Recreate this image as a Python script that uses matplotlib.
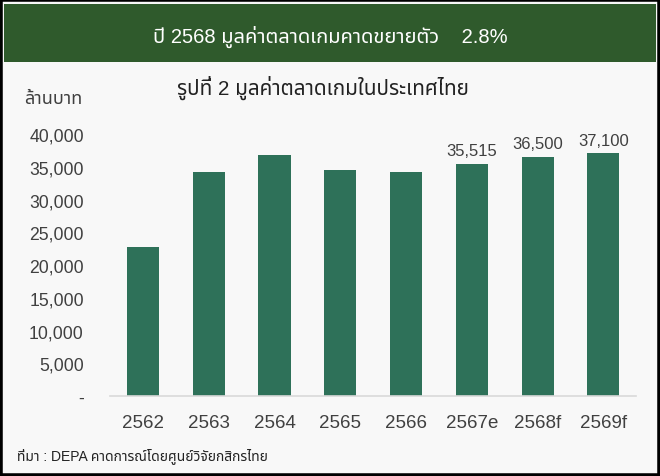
import matplotlib
matplotlib.use('Agg')
import matplotlib.pyplot as plt
from matplotlib import font_manager
from matplotlib.ft2font import FT2Font
from matplotlib.patches import Rectangle
from matplotlib.ticker import FuncFormatter

# data
years = ['2562', '2563', '2564', '2565', '2566', '2567e', '2568f', '2569f']
values = [22800, 34300, 36900, 34500, 34200, 35515, 36500, 37100]
labelled = [False, False, False, False, False, True, True, True]
yticks = [0, 5000, 10000, 15000, 20000, 25000, 30000, 35000, 40000]

header = 'ปี 2568 มูลค่าตลาดเกมคาดขยายตัว    2.8%'
title = 'รูปที่ 2 มูลค่าตลาดเกมในประเทศไทย'
unit = 'ล้านบาท'
source = 'ที่มา : DEPA คาดการณ์โดยศูนย์วิจัยกสิกรไทย'

# find installed fonts that have Thai glyphs, skip the monospace ones
thai = []
for path in sorted(font_manager.findSystemFonts()):
    try:
        f = FT2Font(path)
        if not f.get_char_index(ord('ก')):
            continue
        name = font_manager.FontProperties(fname=path).get_name()
    except Exception:
        continue
    if any(k in name for k in ('Mono', 'Typist', 'Typo', 'Courier')):
        continue
    if name not in thai:
        thai.append(name)
prefer = ['Noto Sans Thai', 'Noto Sans Thai UI', 'Sarabun', 'Loma', 'Garuda',
          'Waree', 'Umpush', 'Sawasdee', 'FreeSans', 'Kinnari', 'Norasi']
thai.sort(key=lambda n: prefer.index(n) if n in prefer else 99)
plt.rcParams['font.family'] = ['Liberation Sans'] + thai[:1] + ['DejaVu Sans']

bg = '#f8f8f8'
green = '#2e7159'
txt = '#404040'

fig = plt.figure(figsize=(6.6, 4.77), dpi=100, facecolor=bg)
# outer black frame
fig.patches.append(Rectangle((0, 0), 1, 1, transform=fig.transFigure,
                             fill=False, edgecolor='black', linewidth=4))
# header band
fig.patches.append(Rectangle((0.006, 0.868), 0.988, 0.122, transform=fig.transFigure,
                             facecolor='#2f5a2c', edgecolor='none'))
fig.text(0.5, 0.922, header, color='white', fontsize=14.5, ha='center', va='center')
fig.text(0.489, 0.815, title, color='#222222', fontsize=14.9, ha='center', va='center')
fig.text(0.081, 0.792, unit, color=txt, fontsize=13, ha='center', va='center')
fig.text(0.026, 0.045, source, color='#222222', fontsize=10, ha='left', va='center')

ax = fig.add_axes([0.167, 0.168, 0.797, 0.548], facecolor=bg)
x = range(len(years))
bars = ax.bar(x, values, width=0.49, color=green)
for b, v, show in zip(bars, values, labelled):
    if show:
        ax.text(b.get_x() + b.get_width() / 2, v + 900, f'{v:,}',
                ha='center', va='bottom', color=txt, fontsize=12)

ax.set_xlim(-0.5, len(years) - 0.5)
ax.set_ylim(0, 40000)
ax.set_yticks(yticks)
ax.yaxis.set_major_formatter(FuncFormatter(lambda v, p: '-' if v == 0 else f'{int(v):,}'))
ax.set_xticks(list(x))
ax.set_xticklabels(years)
ax.tick_params(axis='both', length=0, colors=txt)
ax.tick_params(axis='y', pad=19, labelsize=12.7)
ax.tick_params(axis='x', pad=13, labelsize=13.5)
for s in ['top', 'right', 'left']:
    ax.spines[s].set_visible(False)
ax.spines['bottom'].set_color('#d9d9d9')
ax.spines['bottom'].set_linewidth(1.2)

fig.savefig('out.png', dpi=100, facecolor=bg)
